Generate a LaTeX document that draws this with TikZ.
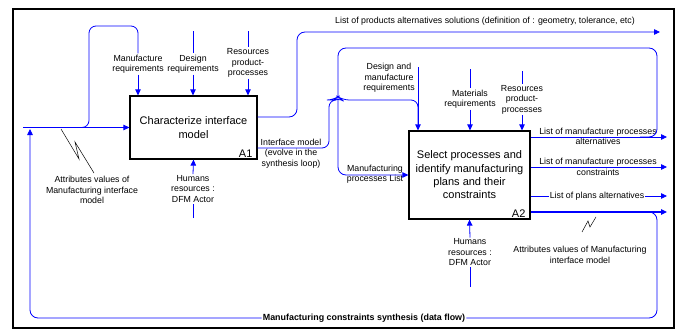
\documentclass[tikz,border=0pt]{standalone}
\usepackage{fontspec}
\setmainfont{Liberation Sans}
\usetikzlibrary{arrows.meta}

\begin{document}
\begin{tikzpicture}[x=1pt,y=-1pt,
 flow/.style={blue,line width=0.8pt},
 tip/.style={-{Triangle[length=6pt,width=5.5pt]}},
 act/.style={draw=black,line width=1.2pt,align=center,inner sep=0pt,font=\fontsize{11}{13.3}\selectfont},
 actid/.style={anchor=south east,inner xsep=5pt,inner ysep=1.5pt,font=\fontsize{11}{13}\selectfont},
 lbl/.style={align=center,inner sep=1pt,font=\fontsize{8.8}{10.5}\selectfont}]
\useasboundingbox (0,0) rectangle (683,332);
\draw[black,line width=1.8pt] (13,9) rectangle (674,328); %frame

% activities
\node[act,minimum width=127pt,minimum height=63pt] (A1) at (193.5,127.5) {Characterize interface\\model};
\node[actid] (A1id) at (A1.south east) {A1};
\node[act,minimum width=121pt,minimum height=88pt] (A2) at (469.5,175) {Select processes and\\identify manufacturing\\plans and their\\constraints};
\node[actid] (A2id) at (A2.south east) {A2};

% labels
\node[lbl] (mreq) at (138,64) {Manufacture\\requirements};
\node[lbl] (dreq) at (193,64) {Design\\requirements};
\node[lbl] (res1) at (248,63) {Resources\\product-\\processes};
\node[lbl] (hum1) at (193,189) {Humans\\resources :\\DFM Actor};
\node[lbl] (att1) at (92,190) {Attributes values of\\Manufacturing interface\\model};
\node[lbl] (prodalt) at (485,21) {List of products alternatives solutions (definition of : geometry, tolerance, etc)};
\node[lbl] (ifm) at (291,153.5) {Interface model\\(evolve in the\\synthesis loop)};
\node[lbl] (dmreq) at (389,78) {Design and\\manufacture\\requirements};
\node[lbl] (matreq) at (470,99) {Materials\\requirements};
\node[lbl] (res2) at (522,99.5) {Resources\\product-\\processes};
\node[lbl] (hum2) at (470,252.5) {Humans\\resources :\\DFM Actor};
\node[lbl] (mpl) at (375,174) {Manufacturing\\processes List};
\node[lbl] (mpalt) at (598,136.5) {List of manufacture processes\\alternatives};
\node[lbl] (mpcon) at (598,167) {List of manufacture processes\\constraints};
\node[lbl] (plalt) at (597,196) {List of plans alternatives};
\node[lbl] (att2) at (580,255) {Attributes values of Manufacturing\\interface model};
\node[lbl,font=\fontsize{8.9}{10.5}\selectfont\bfseries] (synth) at (364,318) {Manufacturing constraints synthesis (data flow)};

% free ends
\coordinate (in0) at (23,127.5);
\coordinate (br0) at (78,127.5);
\coordinate (dtop) at (193,31);
\coordinate (r1top) at (248,31);
\coordinate (h1bot) at (193,218);
\coordinate (dmtop) at (418,67);
\coordinate (mtop) at (470,69);
\coordinate (r2top) at (522,71);
\coordinate (h2bot) at (470,287);
\coordinate (out0) at (660,32);
\coordinate (out1) at (667,137);
\coordinate (out2) at (667,167);
\coordinate (out3) at (667,196);
\coordinate (out4) at (667,212);

% A1 connectors
\draw[flow,tip] (in0) -- (A1.west);
\draw[flow,rounded corners=7] (br0) -| (89,26) -| (mreq.north);
\draw[flow,tip] (mreq.south) -- (mreq.south |- A1.north);
\draw[flow] (dtop) -- (dreq.north);
\draw[flow,tip] (dreq.south) -- (dreq.south |- A1.north);
\draw[flow] (r1top) -- (res1.north);
\draw[flow,tip] (res1.south) -- (res1.south |- A1.north);
\draw[flow] (h1bot) -- (hum1.south);
\draw[flow,tip] (hum1.north) -- (A1.south);
\draw[flow,tip,rounded corners=8] ([yshift=10.5pt]A1.east) -| (297,32) -- (out0);
\draw[flow,rounded corners=7] ([yshift=-20.5pt]A1.east) -| (329,100) -- (334,100) -- (338,97) -- (342,100) -| (418,124);

% A2 connectors
\draw[flow,tip] (dmtop) -- (dmtop |- A2.north);
\draw[flow] (mtop) -- (matreq.north);
\draw[flow,tip] (matreq.south) -- (matreq.south |- A2.north);
\draw[flow] (r2top) -- (res2.north);
\draw[flow,tip] (res2.south) -- (res2.south |- A2.north);
\draw[flow] (h2bot) -- (hum2.south);
\draw[flow,tip] (hum2.north) -- (A2.south);
\draw[flow,tip] ([yshift=38pt]A2.east) -- (out1);
\draw[flow,tip] ([yshift=8pt]A2.east) -- (out2);
\draw[flow] ([yshift=-21pt]A2.east) -- (plalt.west);
\draw[flow,tip] (plalt.east) -- (out3);
\draw[flow,tip,line width=1.1pt] ([yshift=-37pt]A2.east) -- (out4);

% loops
\draw[flow,tip,rounded corners=8] (640,137) -| (657,48) -| (338,175) -- (A2.west);
\draw[flow,rounded corners=8] (640,212) -| (657,318) -- (synth.east);
\draw[flow,tip,rounded corners=8] (synth.west) -| (30,129);

% squiggles
\draw[black,line width=0.5pt] (61,129) -- (79,159) -- (75,142) -- (94,173);
\draw[black,line width=0.5pt] (582,232) -- (588,221) -- (590,227) -- (596,217);
\end{tikzpicture}
\end{document}
